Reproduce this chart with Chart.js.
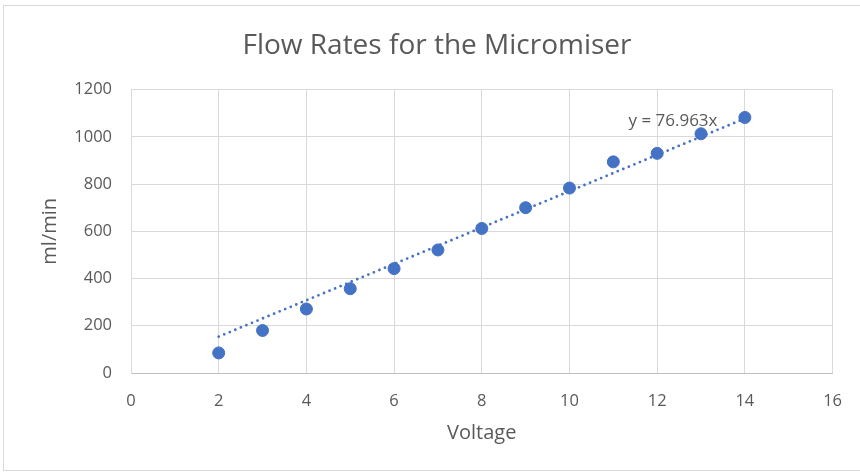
<!DOCTYPE html>
<html>
<head>
<meta charset="utf-8">
<script src="https://cdn.jsdelivr.net/npm/chart.js@4.4.1/dist/chart.umd.min.js"></script>
<style>
html, body { margin: 0; padding: 0; background: #fff; }
</style>
</head>
<body>
<canvas id="myChart" width="860" height="472"></canvas>
<script>
// measured flow at each supply voltage
var voltage = [2, 3, 4, 5, 6, 7, 8, 9, 10, 11, 12, 13, 14];
var flowRate = [85, 180, 271, 357, 442, 521, 612, 700, 783, 894, 930, 1013, 1082];

// linear trendline through the origin, y = 76.963x
var trendSlope = 76.963;
var trendRange = [2, 14];

var xTicks = [0, 2, 4, 6, 8, 10, 12, 14, 16];
var yTicks = [0, 200, 400, 600, 800, 1000, 1200];

var points = voltage.map(function(v, i) { return {x: v, y: flowRate[i]}; });
var trend = trendRange.map(function(v) { return {x: v, y: trendSlope * v}; });

var blue = '#4472C4';
var grey = '#595959';
var font = "'Open Sans', sans-serif";

// white background, outer frame and the trendline equation
var extras = {
    id: 'extras',
    beforeDraw: function(chart) {
        var c = chart.ctx;
        c.save();
        c.fillStyle = '#fff';
        c.fillRect(0, 0, chart.width, chart.height);
        c.strokeStyle = '#d9d9d9';
        c.lineWidth = 1;
        c.strokeRect(3.5, 5.5, chart.width, chart.height - 7);
        c.restore();
    },
    afterDatasetsDraw: function(chart) {
        var c = chart.ctx;
        var xs = chart.scales.x, ys = chart.scales.y;
        c.save();
        c.font = '17px ' + font;
        c.fillStyle = grey;
        c.textAlign = 'center';
        c.textBaseline = 'middle';
        c.fillText('y = 76.963x', xs.getPixelForValue(12.36), ys.getPixelForValue(1068));
        c.restore();
    }
};

function plain(value) { return String(value); }

var ctx = document.getElementById('myChart').getContext('2d');
var flowChart = new Chart(ctx, {
    type: 'scatter',
    data: {
        datasets: [{
            data: points,
            backgroundColor: blue,
            borderColor: blue,
            borderWidth: 1,
            pointRadius: 6,
            pointHoverRadius: 6
        }, {
            type: 'line',
            data: trend,
            borderColor: blue,
            borderWidth: 2.8,
            borderDash: [0, 6],
            borderCapStyle: 'round',
            pointRadius: 0,
            fill: false
        }]
    },
    options: {
        responsive: false,
        animation: false,
        layout: { padding: { left: 38, right: 24, top: 0, bottom: 0 } },
        plugins: {
            legend: { display: false },
            tooltip: { enabled: false },
            title: {
                display: true,
                text: 'Flow Rates for the Micromiser',
                color: grey,
                font: { family: font, size: 28, weight: 'normal' },
                padding: { top: 29, bottom: 27 }
            }
        },
        scales: {
            x: {
                type: 'linear',
                min: 0,
                max: 16,
                afterBuildTicks: function(axis) {
                    axis.ticks = xTicks.map(function(v) { return {value: v}; });
                },
                grid: { color: '#d9d9d9', drawTicks: false },
                border: { color: '#bfbfbf', width: 1 },
                ticks: { color: grey, padding: 18, callback: plain, font: { family: font, size: 16.5 } },
                title: {
                    display: true,
                    text: 'Voltage',
                    color: grey,
                    font: { family: font, size: 20 },
                    padding: { top: 0, bottom: 27 }
                },
                afterFit: function(axis) { axis.height = 99; }
            },
            y: {
                min: 0,
                max: 1200,
                afterBuildTicks: function(axis) {
                    axis.ticks = yTicks.map(function(v) { return {value: v}; });
                },
                grid: { color: '#d9d9d9', drawTicks: false },
                border: { color: '#d9d9d9', width: 1 },
                ticks: { color: grey, padding: 19, callback: plain, font: { family: font, size: 16.5 } },
                title: {
                    display: true,
                    text: 'ml/min',
                    color: grey,
                    font: { family: font, size: 20 },
                    padding: { top: 0, bottom: 0 }
                },
                afterFit: function(axis) { axis.width = 93; }
            }
        }
    },
    plugins: [extras]
});
</script>
</body>
</html>
